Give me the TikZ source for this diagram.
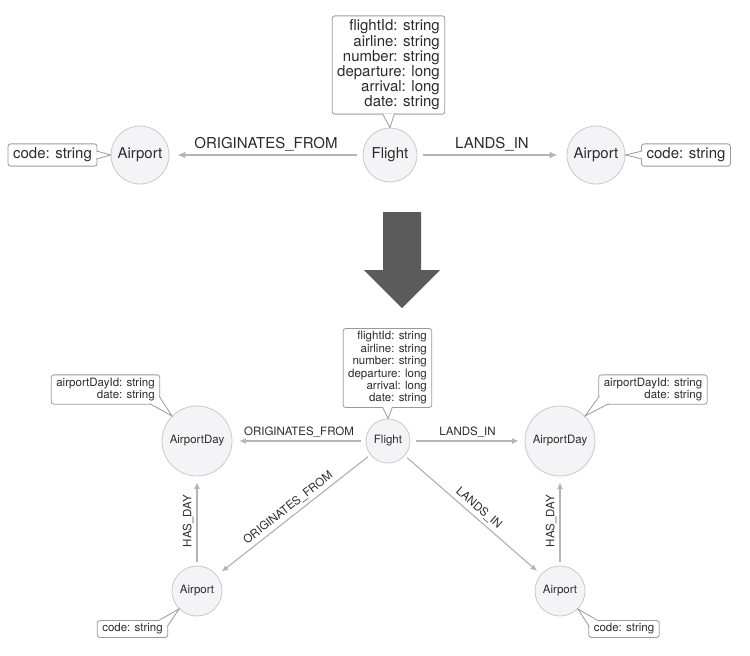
\documentclass[tikz,border=0pt]{standalone}
\usepackage{fontspec}
\setmainfont{TeX Gyre Heros}
\usetikzlibrary{arrows.meta}

\definecolor{nodefill}{HTML}{F4F4F6}
\definecolor{nodeline}{HTML}{C9C9CC}
\definecolor{edgecol}{HTML}{B4B4B4}
\definecolor{boxline}{HTML}{9A9A9A}
\definecolor{txt}{HTML}{2B2B2B}
\definecolor{bigarrow}{HTML}{5B5B5B}

\begin{document}
\begin{tikzpicture}[x=1pt, y=-1pt, >={Latex[length=8pt,width=7pt]},
    every node/.style={text=txt},
    big/.style={font=\fontsize{15}{15.2}\selectfont},
    small/.style={font=\fontsize{11.5}{12.4}\selectfont},
    entity/.style={draw=nodeline, fill=nodefill, circle, inner sep=0pt, line width=0.8pt},
    props/.style={draw=boxline, fill=white, rounded corners=2.5pt, align=right, inner xsep=5pt, inner ysep=4pt, outer sep=0pt, line width=0.8pt},
    pointer/.style={draw=boxline, fill=white, line width=0.8pt},
    rel/.style={draw=edgecol, ->, line width=1.8pt},
    relsmall/.style={draw=edgecol, ->, line width=1.2pt, >={Latex[length=6.5pt,width=6pt]}},
    edgelabel/.style={inner sep=1pt}]
                    \useasboundingbox (0,0) rectangle (750,656);

                    % Top schema
                    \node[entity, big, minimum size=54pt] (flightTop) at (390,155) {Flight};
                    \node[entity, big, minimum size=58pt] (airportL) at (140,155) {Airport};
                    \node[entity, big, minimum size=58pt] (airportR) at (596,155) {Airport};

                    % Top properties
                    \node[props, big] (flightTopProps) at (388.5,65) {flightId: string\\airline: string\\number: string\\departure: long\\arrival: long\\date: string};
                    \node[props, big] (airportLProps) at (52.5,155) {code: string};
                    \node[props, big] (airportRProps) at (686,155) {code: string};

                    \path[pointer] ([xshift=-6pt,yshift=.5pt]flightTopProps.south) -- (flightTop.north) -- ([xshift=6pt,yshift=.5pt]flightTopProps.south);
                    \path[pointer] ([xshift=-.5pt,yshift=4pt]airportLProps.east) -- (airportL.west) -- ([xshift=-.5pt,yshift=-4pt]airportLProps.east);
                    \path[pointer] ([xshift=.5pt,yshift=4pt]airportRProps.west) -- (airportR.east) -- ([xshift=.5pt,yshift=-4pt]airportRProps.west);

                    % Top relationships
                    \draw[rel, shorten >=8pt, shorten <=6pt] (flightTop) -- node[edgelabel, big, above=2pt] {ORIGINATES\_FROM} (airportL);
                    \draw[rel, shorten >=9pt, shorten <=6pt] (flightTop) -- node[edgelabel, big, above=2pt] {LANDS\_IN} (airportR);

                    % Big arrow
                    \fill[bigarrow] (383,212) -- (421,212) -- (421,270) -- (440,270) -- (402,308) -- (364,270) -- (383,270) -- cycle;

                    % Bottom schema
                    \node[entity, small, minimum size=44pt] (flightBot) at (388,441) {Flight};
                    \node[entity, small, minimum size=70pt] (dayL) at (197,441) {AirportDay};
                    \node[entity, small, minimum size=70pt] (dayR) at (560,441) {AirportDay};
                    \node[entity, small, minimum size=50pt] (airportBL) at (197,591) {Airport};
                    \node[entity, small, minimum size=50pt] (airportBR) at (560,591) {Airport};

                    % Bottom properties
                    \node[props, small, inner ysep=3pt] (flightBotProps) at (387.5,368) {flightId: string\\airline: string\\number: string\\departure: long\\arrival: long\\date: string};
                    \node[props, small, inner ysep=3pt] (dayLProps) at (105.5,389.5) {airportDayId: string\\date: string};
                    \node[props, small, inner ysep=3pt] (dayRProps) at (653,389.5) {airportDayId: string\\date: string};
                    \node[props, small, inner ysep=3pt] (airportBLProps) at (132.5,629) {code: string};
                    \node[props, small, inner ysep=3pt] (airportBRProps) at (624,629) {code: string};

                    \path[pointer] ([xshift=-5pt,yshift=.5pt]flightBotProps.south) -- (flightBot.north) -- ([xshift=5pt,yshift=.5pt]flightBotProps.south);
                    \path[pointer] ([xshift=-10pt,yshift=.5pt]dayLProps.south east) -- (dayL.135) -- ([xshift=-.5pt,yshift=8pt]dayLProps.south east);
                    \path[pointer] ([xshift=.5pt,yshift=8pt]dayRProps.south west) -- (dayR.45) -- ([xshift=10pt,yshift=.5pt]dayRProps.south west);
                    \path[pointer] ([xshift=-10pt,yshift=-.5pt]airportBLProps.north east) -- (airportBL.225) -- ([xshift=-.5pt,yshift=-6pt]airportBLProps.north east);
                    \path[pointer] ([xshift=.5pt,yshift=-6pt]airportBRProps.north west) -- (airportBR.-45) -- ([xshift=10pt,yshift=-.5pt]airportBRProps.north west);

                    % Bottom relationships
                    \draw[relsmall, shorten >=7pt, shorten <=5pt] (flightBot) -- node[edgelabel, small, above=2pt] {ORIGINATES\_FROM} (dayL);
                    \draw[relsmall, shorten >=6pt, shorten <=6pt] (flightBot) -- node[edgelabel, small, above=2pt] {LANDS\_IN} (dayR);
                    \draw[relsmall, shorten >=6pt, shorten <=3pt] (flightBot) -- node[edgelabel, small, sloped, above=2pt] {ORIGINATES\_FROM} (airportBL);
                    \draw[relsmall, shorten >=5pt, shorten <=3pt] (flightBot) -- node[edgelabel, small, sloped, above=2pt] {LANDS\_IN} (airportBR);
                    \foreach \side in {L,R}
                    {
                        \draw[relsmall, shorten >=6pt, shorten <=4pt] (airportB\side) -- node[edgelabel, small, sloped, allow upside down, above=2pt] {HAS\_DAY} (day\side);
                    }
\end{tikzpicture}
\end{document}
